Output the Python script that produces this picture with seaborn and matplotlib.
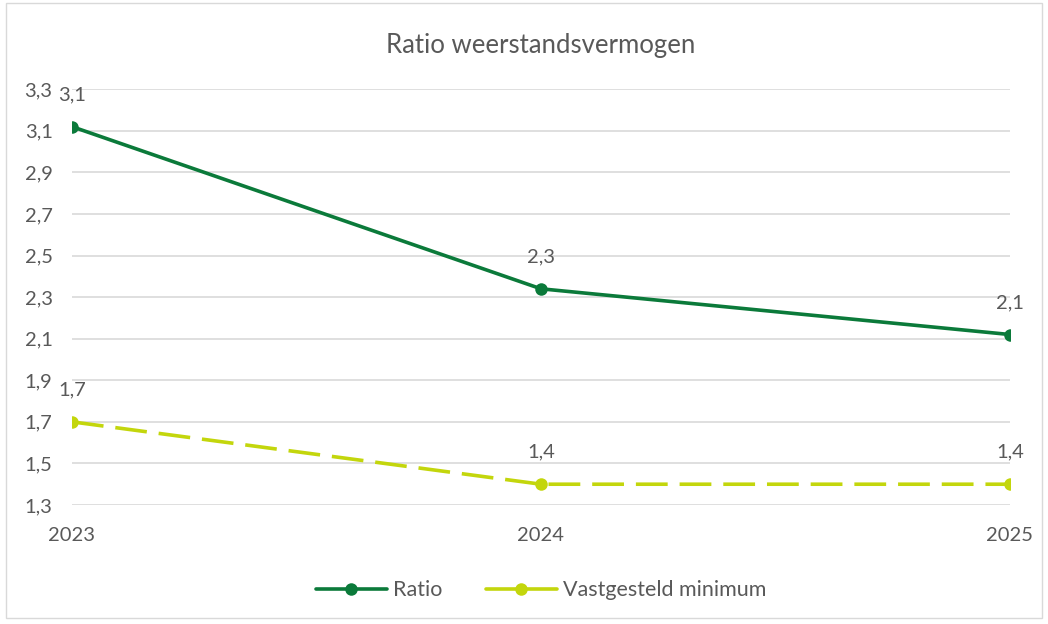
import pandas as pd
import matplotlib.pyplot as plt
import seaborn as sns
from matplotlib.patches import Rectangle
from matplotlib.lines import Line2D

# Data
years = [2023, 2024, 2025]
ratio = [3.12, 2.34, 2.12]
minimum = [1.70, 1.40, 1.40]
ratio_labels = ["3,1", "2,3", "2,1"]
minimum_labels = ["1,7", "1,4", "1,4"]
y_ticks = [1.3, 1.5, 1.7, 1.9, 2.1, 2.3, 2.5, 2.7, 2.9, 3.1, 3.3]

DARK = "#0B7A3A"
LIGHT = "#C3D60C"
TEXT = "#595959"
GRID = "#D9D9D9"


def main():
    sns.set_style("white")
    plt.rcParams['font.family'] = ['Lato', 'DejaVu Sans']

    df = pd.DataFrame({"Jaar": years, "Ratio": ratio, "Vastgesteld minimum": minimum})

    fig = plt.figure(figsize=(10.48, 6.24), dpi=100)
    ax = fig.add_axes([0.0687, 0.1907, 0.8950, 0.6663])

    sns.lineplot(data=df, x="Jaar", y="Ratio", ax=ax, color=DARK, linewidth=2.6,
                 marker="o", markersize=9, markeredgewidth=0, legend=False)
    sns.lineplot(data=df, x="Jaar", y="Vastgesteld minimum", ax=ax, color=LIGHT, linewidth=2.6,
                 marker="o", markersize=9, markeredgewidth=0, legend=False)
    ax.lines[1].set_dashes([8.8, 3.3])

    # data labels
    for x, y, t in zip(years, ratio, ratio_labels):
        ax.annotate(t, (x, y), xytext=(0, 23), textcoords="offset points",
                    ha="center", va="center", fontsize=14.5, color=TEXT)
    for x, y, t in zip(years, minimum, minimum_labels):
        ax.annotate(t, (x, y), xytext=(0, 23), textcoords="offset points",
                    ha="center", va="center", fontsize=14.5, color=TEXT)

    ax.set_xlim(2023, 2025)
    ax.set_ylim(1.3, 3.3)
    ax.set_xticks(years)
    ax.set_xticklabels([str(y) for y in years], fontsize=14.5, color=TEXT)
    ax.set_yticks(y_ticks)
    ax.set_yticklabels([f"{v:.1f}".replace(".", ",") for v in y_ticks], fontsize=14.5, color=TEXT)
    ax.tick_params(axis="y", length=0, pad=14)
    ax.tick_params(axis="x", length=0, pad=16)
    ax.set_xlabel("")
    ax.set_ylabel("")
    ax.grid(axis="y", color=GRID, linewidth=1.2)
    ax.set_axisbelow(True)
    for s in ax.spines.values():
        s.set_visible(False)

    ax.set_title("Ratio weerstandsvermogen", fontsize=18.5, color=TEXT, pad=26)

    handles = [
        Line2D([], [], color=DARK, linewidth=2.6, marker="o", markersize=9, markeredgewidth=0),
        Line2D([], [], color=LIGHT, linewidth=2.6, marker="o", markersize=9, markeredgewidth=0),
    ]
    ax.legend(handles, ["Ratio", "Vastgesteld minimum"], loc="center",
              bbox_to_anchor=(0.5, -0.205), ncol=2, frameon=False,
              fontsize=15.5, labelcolor=TEXT, handlelength=3.3, columnspacing=2.0,
              handletextpad=0.3)

    fig.patches.append(Rectangle((0.006, 0.01), 0.988, 0.985, transform=fig.transFigure,
                                 fill=False, edgecolor="#D9D9D9", linewidth=1))

    fig.savefig("out.png", dpi=100)


if __name__ == "__main__":
    main()
